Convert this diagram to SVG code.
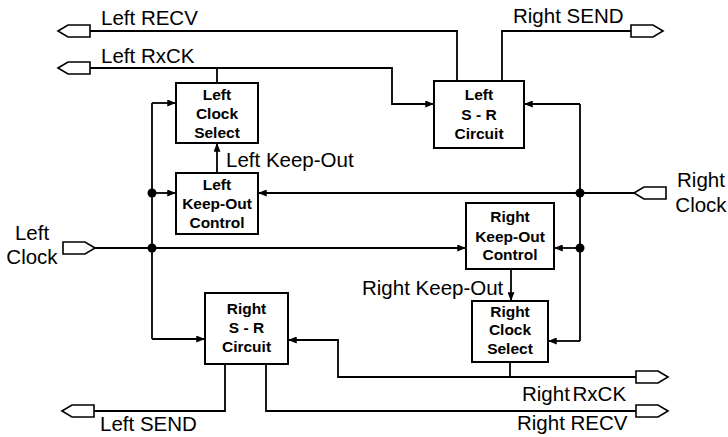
<svg xmlns="http://www.w3.org/2000/svg" width="728" height="437" viewBox="0 0 728 437">
  <style>
    .box { fill: #fff; stroke: #000; stroke-width: 2; }
    .node { font-family: "Liberation Sans", Arial, Helvetica, sans-serif; font-weight: bold; font-size: 15.5px; text-anchor: middle; fill: #000; }
    .lbl { font-family: "Liberation Sans", Arial, Helvetica, sans-serif; font-size: 20.5px; fill: #000; }
    .mid { text-anchor: middle; }
    .wire { fill: none; stroke: #000; stroke-width: 1.8; }
    .arr { marker-end: url(#ah); }
    .port { fill: #fff; stroke: #000; stroke-width: 1.6; stroke-linejoin: miter; }
    .dot { fill: #000; }
  </style>
  <defs>
    <marker id="ah" viewBox="0 0 10 8" refX="10" refY="4" markerWidth="9" markerHeight="7" markerUnits="userSpaceOnUse" orient="auto">
      <path d="M0,0 L10,4 L0,8 Z" fill="#000"/>
    </marker>
    <!-- I/O pads: tip at the origin -->
    <path id="padL" d="M0,0 L10,-6 H32 V6 H10 Z"/>
    <path id="padR" d="M0,0 L-10,-6 H-32 V6 H-10 Z"/>
  </defs>

  <!-- connectors -->
  <g id="connectors">
    <!-- Left RECV -->
    <path class="wire" d="M90,31 H457 V81"/>
    <!-- Left RxCK -->
    <path class="wire arr" d="M90,68 H392 V104 H434"/>
    <path class="wire" d="M217,68 V83"/>
    <!-- Right SEND -->
    <path class="wire" d="M502,81 V31 H631"/>
    <!-- left clock bus -->
    <path class="wire" d="M152,103 V339"/>
    <path class="wire arr" d="M152,103 H176"/>
    <path class="wire arr" d="M152,339 H205"/>
    <path class="wire arr" d="M152,193 H176"/>
    <!-- Left Clock -->
    <path class="wire arr" d="M95,248 H466"/>
    <!-- Left Keep-Out -->
    <path class="wire arr" d="M217,173 V143"/>
    <!-- Right Clock -->
    <path class="wire arr" d="M634,193 H258"/>
    <!-- right clock bus -->
    <path class="wire" d="M580,104 V341"/>
    <path class="wire arr" d="M580,104 H524"/>
    <path class="wire arr" d="M580,341 H548"/>
    <path class="wire arr" d="M580,248 H554"/>
    <!-- Right Keep-Out -->
    <path class="wire arr" d="M511,269 V301"/>
    <!-- Right RxCK -->
    <path class="wire arr" d="M638,377 H338 V340 H288"/>
    <path class="wire" d="M510,362 V377"/>
    <!-- Right RECV -->
    <path class="wire" d="M266,364 V411 H638"/>
    <!-- Left SEND -->
    <path class="wire" d="M225,364 V411 H94"/>

    <!-- junctions -->
    <circle class="dot" cx="152" cy="193" r="4.5"/>
    <circle class="dot" cx="152" cy="248" r="4.5"/>
    <circle class="dot" cx="580" cy="193" r="4.5"/>
    <circle class="dot" cx="580" cy="248" r="4.5"/>

    <!-- pads -->
    <use href="#padL" class="port" x="58" y="31"/>
    <use href="#padL" class="port" x="58" y="68"/>
    <use href="#padR" class="port" x="95" y="248"/>
    <use href="#padR" class="port" x="663" y="31"/>
    <use href="#padL" class="port" x="634" y="193"/>
    <use href="#padR" class="port" x="668" y="377"/>
    <use href="#padR" class="port" x="668" y="411"/>
    <use href="#padL" class="port" x="62" y="411"/>
  </g>

  <!-- signal labels -->
  <g id="labels">
    <text class="lbl" x="101" y="25">Left RECV</text>
    <text class="lbl" x="101" y="63">Left RxCK</text>
    <text class="lbl" x="513" y="23">Right SEND</text>
    <text class="lbl" x="226" y="167">Left Keep-Out</text>
    <text class="lbl mid" x="32" y="240">Left</text>
    <text class="lbl mid" x="32" y="264">Clock</text>
    <text class="lbl mid" x="701" y="187">Right</text>
    <text class="lbl mid" x="701" y="212">Clock</text>
    <text class="lbl" x="362" y="295">Right Keep-Out</text>
    <text class="lbl" x="522" y="401" word-spacing="-3">Right RxCK</text>
    <text class="lbl" x="517" y="430">Right RECV</text>
    <text class="lbl" x="100" y="431">Left SEND</text>
  </g>

  <g id="left-clock-select">
    <rect class="box" x="176" y="83" width="82" height="60"/>
    <text class="node" x="217" y="100">Left</text>
    <text class="node" x="217" y="119">Clock</text>
    <text class="node" x="217" y="138">Select</text>
  </g>

  <g id="left-sr-circuit">
    <rect class="box" x="434" y="81" width="90" height="67"/>
    <text class="node" x="479" y="100">Left</text>
    <text class="node" x="479" y="120">S - R</text>
    <text class="node" x="479" y="138.5">Circuit</text>
  </g>

  <g id="left-keep-out-control">
    <rect class="box" x="176" y="173" width="82" height="61"/>
    <text class="node" x="217" y="190">Left</text>
    <text class="node" x="217" y="209">Keep-Out</text>
    <text class="node" x="217" y="228">Control</text>
  </g>

  <g id="right-keep-out-control">
    <rect class="box" x="466" y="203" width="88" height="66"/>
    <text class="node" x="510" y="222">Right</text>
    <text class="node" x="510" y="241.5">Keep-Out</text>
    <text class="node" x="510" y="260">Control</text>
  </g>

  <g id="right-sr-circuit">
    <rect class="box" x="205" y="293" width="83" height="71"/>
    <text class="node" x="246.5" y="313.5">Right</text>
    <text class="node" x="246.5" y="333">S - R</text>
    <text class="node" x="246.5" y="352">Circuit</text>
  </g>

  <g id="right-clock-select">
    <rect class="box" x="472" y="301" width="76" height="61"/>
    <text class="node" x="510" y="316.5">Right</text>
    <text class="node" x="510" y="335">Clock</text>
    <text class="node" x="510" y="354">Select</text>
  </g>
</svg>
